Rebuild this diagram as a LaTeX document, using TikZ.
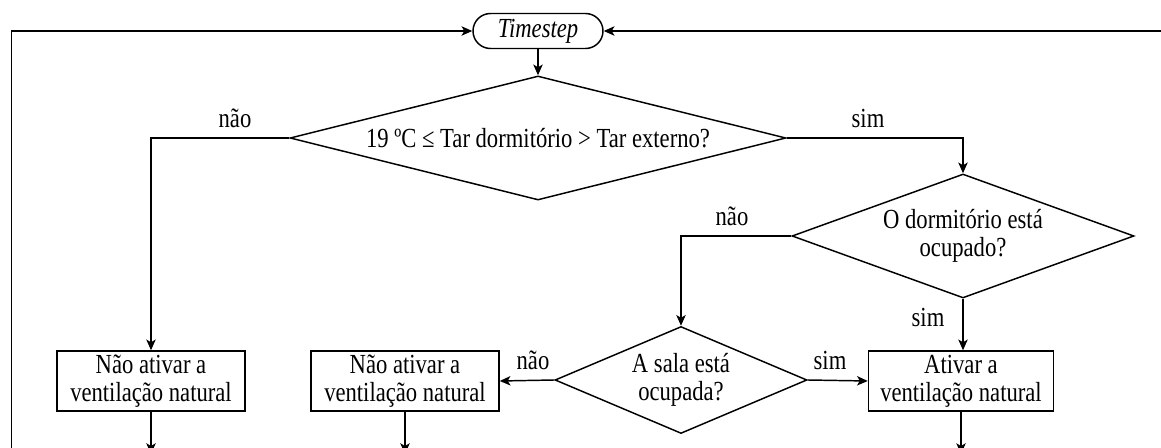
\documentclass[tikz,border=0pt]{standalone}
\usepackage{fontspec}
\setmainfont{Liberation Serif}[FakeStretch=0.82]
\usetikzlibrary{shapes.geometric,shapes.misc,arrows.meta}
\begin{document}
\begin{tikzpicture}[x=0.75pt,y=-0.75pt,
  line width=1.1pt,
  font=\fontsize{20.7}{21}\selectfont,
  arr/.style={-{Stealth[length=8pt,width=7pt,inset=2pt]}},
  proc/.style={draw,rectangle,minimum width=141pt,minimum height=45pt,inner sep=0pt,align=center},
  dec/.style={draw,diamond,inner sep=0pt,align=center},
  term/.style={draw,rounded rectangle,minimum width=97.5pt,minimum height=26.25pt,inner sep=0pt,font=\fontsize{20.7}{21}\selectfont\itshape},
  lbl/.style={anchor=base,inner sep=0pt}
]
\clip (0,0) rectangle (1161,448);
\fill[white] (0,0) rectangle (1161,448);

\node[term] (T) at (538,31) {Timestep};
\node[dec,minimum width=372pt,minimum height=93pt,aspect=4] (d1) at (538,138) {19 ºC ≤ Tar dormitório > Tar externo?};
\node[dec,minimum width=256.5pt,minimum height=93pt,aspect=2.8] (d2) at (963,236) {O dormitório está\\ocupado?};
\node[dec,minimum width=189pt,minimum height=80.25pt,aspect=2.36] (d3) at (681,380) {A sala está\\ocupada?};
\node[proc] (b1) at (151,381) {Não ativar a\\ventilação natural};
\node[proc] (b2) at (405,381) {Não ativar a\\ventilação natural};
\node[proc,minimum width=138.75pt] (ba) at (961,381) {Ativar a\\ventilação natural};

\coordinate (bot) at (0,454);
\coordinate (lb) at (11.7,470);
\coordinate (rr) at (1175,31);

\draw[arr] (T.south) -- (d1.north);
\draw[arr] (d1.west) -| (b1.north);
\draw[arr] (d1.east) -| (d2.north);
\draw[arr] (d2.west) -| (d3.north);
\draw[arr] (d2.south) -- (d2.south |- ba.north);
\draw[arr] (d3.west) -- (b2.east);
\draw[arr] (d3.east) -- (ba.west);
\draw[arr] (b1.south) -- (b1.south |- bot);
\draw[arr] (b2.south) -- (b2.south |- bot);
\draw[arr] (ba.south) -- (ba.south |- bot);
\draw[arr] (lb) |- (T.west);
\draw[arr] (rr) -- (T.east);

\node[lbl] (l1) at (235,128) {não};
\node[lbl] (l2) at (868,128) {sim};
\node[lbl] (l3) at (732,226) {não};
\node[lbl] (l4) at (928,327) {sim};
\node[lbl] (l5) at (533,370) {não};
\node[lbl] (l6) at (830,370) {sim};
\end{tikzpicture}
\end{document}
